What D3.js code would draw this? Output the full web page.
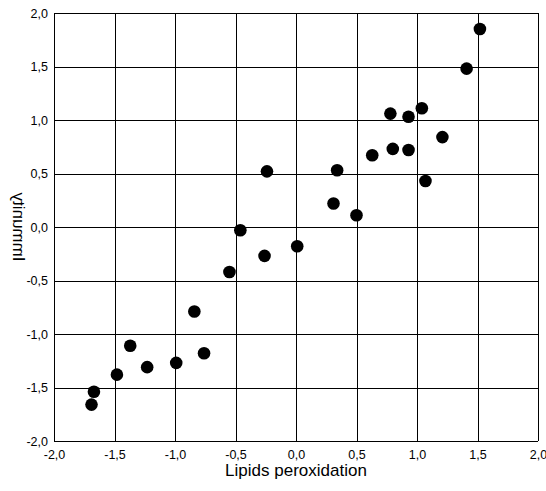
<!DOCTYPE html>
<html>
<head>
<meta charset="utf-8">
<script src="https://cdn.jsdelivr.net/npm/d3@7"></script>
<style>
  body { margin: 0; background: #fff; }
  svg { display: block; font-family: "Liberation Sans", Arial, sans-serif; }
</style>
</head>
<body>
<script>
// Screen dimensions.
const WIDTH = 546;
const HEIGHT = 491;
const margin = {top: 13, right: 8, bottom: 50, left: 54};

// Data.
const lipids = [1.52, 1.41, 1.04, 0.78, 0.93, 1.21, 0.80, 0.93, 0.63, 0.34, -0.24, 1.07, 0.31,
  0.50, -0.46, 0.01, -0.26, -0.55, -0.84, -1.37, -0.76, -0.99, -1.23, -1.48, -1.67, -1.69];
const immunity = [1.85, 1.48, 1.11, 1.06, 1.03, 0.84, 0.73, 0.72, 0.67, 0.53, 0.52, 0.43, 0.22,
  0.11, -0.03, -0.18, -0.27, -0.42, -0.79, -1.11, -1.18, -1.27, -1.31, -1.38, -1.54, -1.66];
const tickValues = [-2, -1.5, -1, -0.5, 0, 0.5, 1, 1.5, 2];

const fmt = d => d3.format(".1f")(d).replace(".", ",").replace("−", "-");

const svg = d3.select("body").append("svg").attr("width", WIDTH).attr("height", HEIGHT);

const x = d3.scaleLinear().domain([-2, 2]).range([margin.left, WIDTH - margin.right]);
const y = d3.scaleLinear().domain([-2, 2]).range([HEIGHT - margin.bottom, margin.top]);

// grid
const grid = svg.append("g").attr("stroke", "#000").attr("stroke-width", 1).attr("shape-rendering", "crispEdges");
grid.selectAll(".vx").data(tickValues).enter().append("line")
  .attr("x1", d => Math.round(x(d)) + 0.5).attr("x2", d => Math.round(x(d)) + 0.5)
  .attr("y1", y(2)).attr("y2", y(-2));
grid.selectAll(".hy").data(tickValues).enter().append("line")
  .attr("y1", d => Math.round(y(d)) + 0.5).attr("y2", d => Math.round(y(d)) + 0.5)
  .attr("x1", x(-2)).attr("x2", x(2));

// axes (labels only)
svg.append("g").attr("transform", `translate(0,${y(-2)})`)
  .call(d3.axisBottom(x).tickValues(tickValues).tickFormat(fmt).tickSize(0).tickPadding(9));
svg.append("g").attr("transform", `translate(${x(-2)},0)`)
  .call(d3.axisLeft(y).tickValues(tickValues).tickFormat(fmt).tickSize(0).tickPadding(6));
svg.selectAll(".domain").remove();
svg.selectAll(".tick text").attr("font-size", 12.5).attr("font-family", "Liberation Sans, Arial, sans-serif").attr("fill", "#000");

// points
svg.append("g").selectAll("circle").data(lipids).enter().append("circle")
  .attr("cx", (d, i) => x(d))
  .attr("cy", (d, i) => y(immunity[i]))
  .attr("r", 6.3)
  .attr("fill", "#000");

// axis titles
svg.append("text")
  .attr("x", (x(-2) + x(2)) / 2).attr("y", 476)
  .attr("text-anchor", "middle").attr("font-size", 17)
  .text("Lipids peroxidation");

// the original y title is drawn mirrored: reads upward, letter tops facing the axis
svg.append("text")
  .attr("transform", `translate(13,${(y(-2) + y(2)) / 2}) matrix(0,-1,-1,0,0,0)`)
  .attr("text-anchor", "middle").attr("font-size", 17)
  .text("Immunity");
</script>
</body>
</html>
